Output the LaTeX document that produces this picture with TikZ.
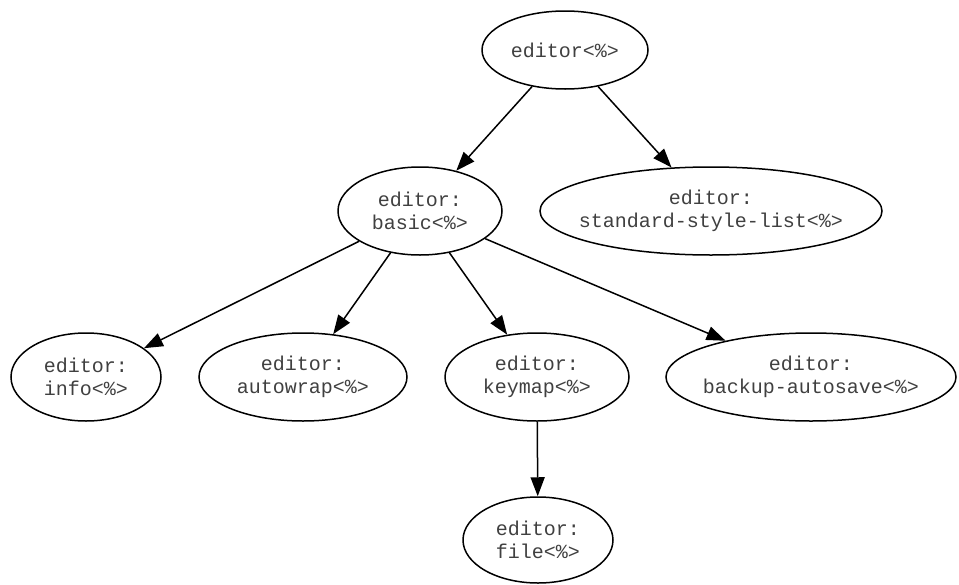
\documentclass[tikz,border=0pt]{standalone}
\usepackage{fontspec}
\setmonofont{Liberation Mono}
\usetikzlibrary{shapes.geometric,arrows.meta}
\tikzset{
  x=1pt, y=-1pt,
  gnode/.style={draw, ellipse, line width=1.5pt, inner xsep=-45pt, inner ysep=0pt,
    align=center, text=black!75, font=\ttfamily\fontsize{20}{23.5}\selectfont},
  gedge/.style={draw, line width=1.5pt, -{Triangle[length=19pt,width=14pt]}}
}
\begin{document}
\begin{tikzpicture}
\useasboundingbox (0,0) rectangle (959,584);
\node[gnode, minimum width=166pt, minimum height=78pt] (root) at (565,50) {editor<\%>};
\node[gnode, minimum width=164pt, minimum height=88pt] (basic) at (420,211) {editor:\\basic<\%>};
\node[gnode, minimum width=342pt, minimum height=88pt] (std) at (711,211) {editor:\\standard-style-list<\%>};
\node[gnode, minimum width=150pt, minimum height=88pt] (info) at (86,377) {editor:\\info<\%>};
\node[gnode, minimum width=208pt, minimum height=88pt] (wrap) at (303,377) {editor:\\autowrap<\%>};
\node[gnode, minimum width=184pt, minimum height=88pt] (keymap) at (537,377) {editor:\\keymap<\%>};
\node[gnode, minimum width=290pt, minimum height=88pt] (backup) at (811,377) {editor:\\backup-autosave<\%>};
\node[gnode, minimum width=150pt, minimum height=86pt] (file) at (538,540) {editor:\\file<\%>};

\path[gedge] (root) -- (basic);
\path[gedge] (root) -- (std);
\path[gedge] (basic) -- (info);
\path[gedge] (basic) -- (wrap);
\path[gedge] (basic) -- (keymap);
\path[gedge] (basic) -- (backup);
\path[gedge] (keymap) -- (file);
\end{tikzpicture}
\end{document}
